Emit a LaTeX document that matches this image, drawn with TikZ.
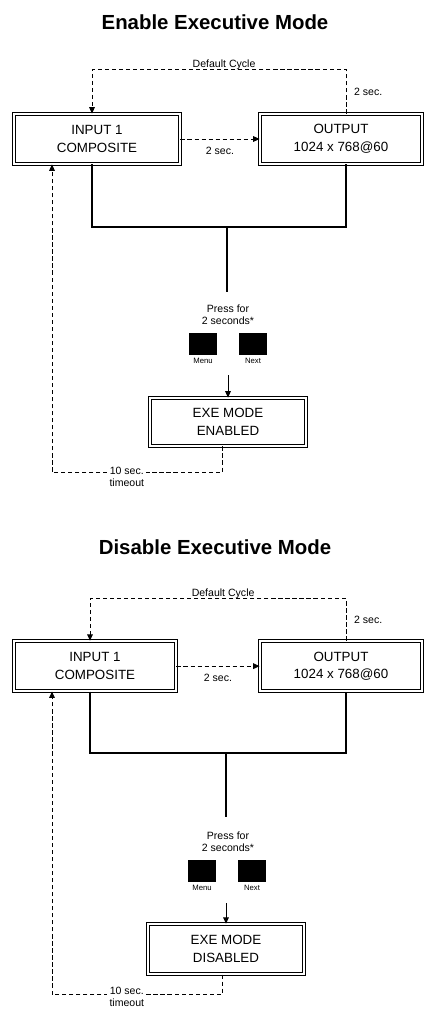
\documentclass[tikz,border=0pt]{standalone}
\usepackage{fontspec}
\setmainfont{Liberation Sans}
\usepackage{tikz}
\usetikzlibrary{positioning,arrows.meta}

\begin{document}
\begin{tikzpicture}[x=0.025cm,y=-0.025cm,font=\fontsize{7.5}{8.5}\selectfont,
  title/.style={font=\fontsize{14.5}{16}\selectfont\bfseries},
  lcd/.style={draw,double,double distance=1.6pt,line width=0.6pt,align=center,
    minimum height=1.25cm,inner sep=2pt,font=\fontsize{9.5}{12.5}\selectfont},
  keybox/.style={fill=black,minimum width=0.68cm,minimum height=0.56cm,inner sep=0pt},
  lbl/.style={font=\fontsize{7.5}{8.5}\selectfont,align=center,inner sep=1.5pt},
  tiny/.style={font=\fontsize{5.5}{6}\selectfont,inner sep=1pt},
  cyc/.style={line width=0.6pt,dash pattern=on 3pt off 2pt,-{Triangle[length=4.5pt,width=4pt]}},
  link/.style={line width=1.3pt},
  arr/.style={line width=0.6pt,-{Triangle[length=4.5pt,width=4pt]}}]
\useasboundingbox (0,0) rectangle (424,1012);

% enable
\node[title] (title1) at (215,22) {Enable Executive Mode};
\node[lcd,minimum width=4.15cm] (in1) at (97,139) {INPUT 1\\COMPOSITE};
\node[lcd,minimum width=4.05cm] (out1) at (341,139) {OUTPUT\\1024 x 768@60};
\node[lbl] (press1) at (228,315) {Press for\\2 seconds*};
\node[keybox] (menu1) at (203,344) {};
\node[keybox] (next1) at (253,344) {};
\node[tiny,below=0.5pt of menu1] (menul1) {Menu};
\node[tiny,below=0.5pt of next1] (nextl1) {Next};
\node[lcd,minimum width=3.9cm,minimum height=1.2cm] (exe1) at (228,422) {EXE MODE\\ENABLED};
\coordinate (join1) at (227,227);
\coordinate (tip1) at (228,375);
\draw[cyc] ([xshift=0.125cm]out1.north) -- node[lbl,right=4pt] (two1) {2 sec.} ++(0,-44)
  -| node[lbl,pos=0.24,above=-2pt] (dflt1) {Default Cycle} ([xshift=-0.125cm]in1.north);
\draw[cyc] (in1) -- node[lbl,below=4pt] (sec1) {2 sec.} (out1);
\draw[link] ([xshift=-0.125cm]in1.south) |- (join1) -| ([xshift=0.125cm]out1.south);
\draw[link] (join1) -- ++(0,65);
\draw[arr] (tip1) -- (exe1);
\draw[cyc] ([xshift=-0.15cm]exe1.south) -- ++(0,26)
  -| node[lbl,pos=0.28,fill=white,yshift=-3pt] (tmo1) {10 sec.\\timeout} ([xshift=-1.125cm]in1.south);

% disable
\begin{scope}[yshift=-13.175cm]
\node[title] (title2) at (215,20) {Disable Executive Mode};
\node[lcd,minimum width=4.05cm] (in2) at (95,139) {INPUT 1\\COMPOSITE};
\node[lcd,minimum width=4.05cm] (out2) at (341,139) {OUTPUT\\1024 x 768@60};
\node[lbl] (press2) at (228,315) {Press for\\2 seconds*};
\node[keybox] (menu2) at (202,344) {};
\node[keybox] (next2) at (252,344) {};
\node[tiny,below=0.5pt of menu2] (menul2) {Menu};
\node[tiny,below=0.5pt of next2] (nextl2) {Next};
\node[lcd,minimum width=3.9cm,minimum height=1.25cm] (exe2) at (226,422) {EXE MODE\\DISABLED};
\coordinate (join2) at (226,226);
\coordinate (tip2) at (226,376);
\draw[cyc] ([xshift=0.125cm]out2.north) -- node[lbl,right=4pt] (two2) {2 sec.} ++(0,-42)
  -| node[lbl,pos=0.24,above=-2pt] (dflt2) {Default Cycle} ([xshift=-0.125cm]in2.north);
\draw[cyc] (in2) -- node[lbl,below=4pt] (sec2) {2 sec.} (out2);
\draw[link] ([xshift=-0.125cm]in2.south) |- (join2) -| ([xshift=0.125cm]out2.south);
\draw[link] (join2) -- ++(0,64);
\draw[arr] (tip2) -- (exe2);
\draw[cyc] ([xshift=-0.1cm]exe2.south) -- ++(0,20)
  -| node[lbl,pos=0.28,fill=white,yshift=-1.5pt] (tmo2) {10 sec.\\timeout} ([xshift=-1.075cm]in2.south);
\end{scope}
\end{tikzpicture}
\end{document}
